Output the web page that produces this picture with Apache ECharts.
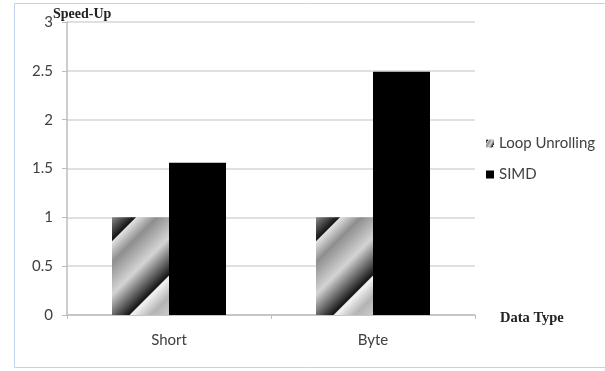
<!DOCTYPE html>
<html>
<head>
<meta charset="utf-8">
<style>
  html, body { margin: 0; padding: 0; background: #fff; }
  #chart { width: 605px; height: 371px; }
</style>
<script src="https://cdn.jsdelivr.net/npm/echarts@6/dist/echarts.min.js"></script>
</head>
<body>
<div id="chart"></div>
<script>
// Speed-up per data type
const categories = ['Short', 'Byte'];
const seriesNames = ['Loop Unrolling', 'SIMD'];
const loopUnrolling = [1, 1];
const simd = [1.56, 2.49];
const yTicks = [0, 0.5, 1, 1.5, 2, 2.5, 3];

// Diagonal banded grey fill; the gradient vector is stretched so that the
// bands run at 45 degrees across a bar of the given width/height.
function diagonalBands(w, h) {
  const s = (w + h) / 2;
  return new echarts.graphic.LinearGradient(0, 0, s / w, s / h, [
    { offset: 0.00, color: '#8a8a8a' },
    { offset: 0.150, color: '#141414' },
    { offset: 0.160, color: '#e2e2e2' },
    { offset: 0.29, color: '#8e8e8e' },
    { offset: 0.50, color: '#d4d4d4' },
    { offset: 0.74, color: '#141414' },
    { offset: 0.750, color: '#f6f6f6' },
    { offset: 0.88, color: '#b4b4b4' },
    { offset: 1.00, color: '#cacaca' }
  ]);
}

const chart = echarts.init(document.getElementById('chart'), null, { renderer: 'canvas' });

const gridLeft = 67, gridTop = 22, gridRight = 130, gridBottom = 56;
const barW = 57;
const plotH = 371 - gridTop - gridBottom;

const labelFont = 'Lato, "Open Sans", sans-serif';
const serifFont = '"Liberation Serif", "DejaVu Serif", serif';

chart.setOption({
  animation: false,
  backgroundColor: '#ffffff',
  graphic: [
    {
      type: 'rect',
      shape: { x: 14.5, y: 3.5, width: 640, height: 364 },
      style: { fill: 'none', stroke: '#c2d3ee', lineWidth: 1 },
      z: -1
    },
    {
      type: 'text',
      left: 53, top: 7,
      style: { text: 'Speed-Up', font: 'bold 14px ' + serifFont, fill: '#222' }
    },
    {
      type: 'text',
      left: 500, top: 311,
      style: { text: 'Data Type', font: 'bold 14.5px ' + serifFont, fill: '#222' }
    }
  ],
  legend: {
    orient: 'vertical',
    left: 481,
    top: 131,
    itemWidth: 8,
    itemHeight: 8,
    itemGap: 16,
    icon: 'rect',
    textStyle: { fontFamily: labelFont, fontSize: 15, color: '#404040' },
    data: seriesNames
  },
  grid: { left: gridLeft, right: gridRight, top: gridTop, bottom: gridBottom },
  xAxis: {
    type: 'category',
    data: categories,
    axisLine: { lineStyle: { color: '#bdbdbd', width: 1.5 } },
    axisTick: { show: true, length: 4, lineStyle: { color: '#bdbdbd' } },
    axisLabel: { fontFamily: labelFont, fontSize: 15, color: '#404040', margin: 18 }
  },
  yAxis: {
    type: 'value',
    min: 0, max: 3, interval: 0.5,
    axisLine: { show: true, lineStyle: { color: '#bdbdbd', width: 1.5 } },
    axisTick: { show: true, length: 5, lineStyle: { color: '#bdbdbd' } },
    axisLabel: {
      fontFamily: labelFont, fontSize: 15, color: '#404040', margin: 14,
      formatter: v => (yTicks.includes(v) ? String(v) : '')
    },
    splitLine: { lineStyle: { color: '#d6d6d6', width: 1.5 } }
  },
  series: [
    {
      name: seriesNames[0],
      type: 'bar',
      data: loopUnrolling,
      barWidth: barW,
      barGap: '0%',
      itemStyle: { color: diagonalBands(barW, plotH / 3) }
    },
    {
      name: seriesNames[1],
      type: 'bar',
      data: simd,
      barWidth: barW,
      itemStyle: { color: '#000000' }
    }
  ]
});
</script>
</body>
</html>
